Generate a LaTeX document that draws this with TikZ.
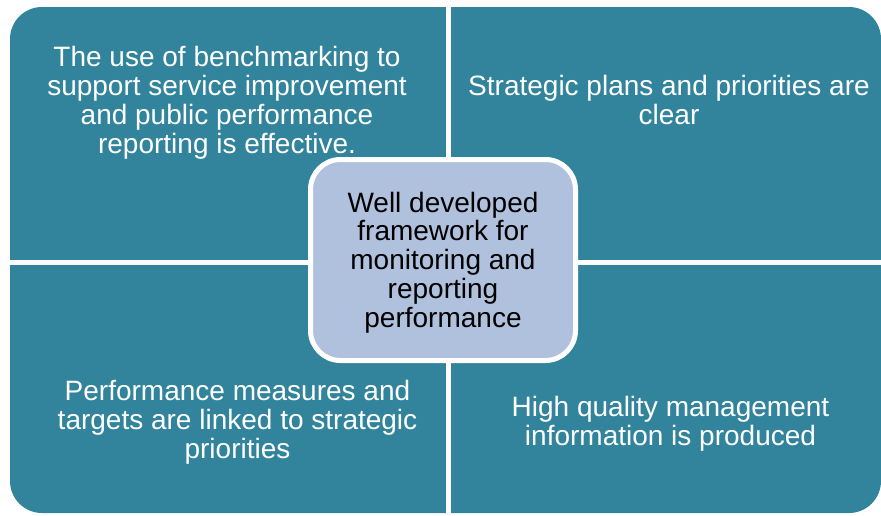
\documentclass[tikz,border=0pt]{standalone}
\usepackage{fontspec}
\setmainfont{Liberation Sans}
\definecolor{quadteal}{HTML}{31849B}
\definecolor{centerblue}{HTML}{B0C1DD}
\begin{document}
\begin{tikzpicture}[x=1pt,y=-1pt,
  quadtext/.style={text=white,align=center,anchor=base,inner sep=0pt,
    font=\fontsize{28}{28.7}\selectfont},
  centertext/.style={text=black,align=center,anchor=base,inner sep=0pt,
    font=\fontsize{28}{28.7}\selectfont},
  gapbar/.style={fill=white}]
\useasboundingbox (0,0) rectangle (881,515);
% outer teal area
\fill[quadteal,rounded corners=32pt] (10,7) rectangle (881,513);
% white gaps between the quadrants
\fill[gapbar] (446,0) rectangle (451,515);
\fill[gapbar] (0,260) rectangle (881,265);
% quadrant texts (anchor = baseline of last line)
\node[quadtext] (tl) at (227,153) {The use of benchmarking to\\support service improvement\\and public performance\\reporting is effective.};
\node[quadtext] (tr) at (669,124) {Strategic plans and priorities are\\clear};
\node[quadtext] (bl) at (237.5,458) {Performance measures and\\targets are linked to strategic\\priorities};
\node[quadtext] (br) at (670.5,445) {High quality management\\information is produced};
% central box
\filldraw[fill=centerblue,draw=white,line width=5pt,rounded corners=30pt] (310.5,159.5) rectangle (575.5,360.5);
\node[centertext] (c) at (443,327) {Well developed\\framework for\\monitoring and\\reporting\\performance};
\end{tikzpicture}
\end{document}
